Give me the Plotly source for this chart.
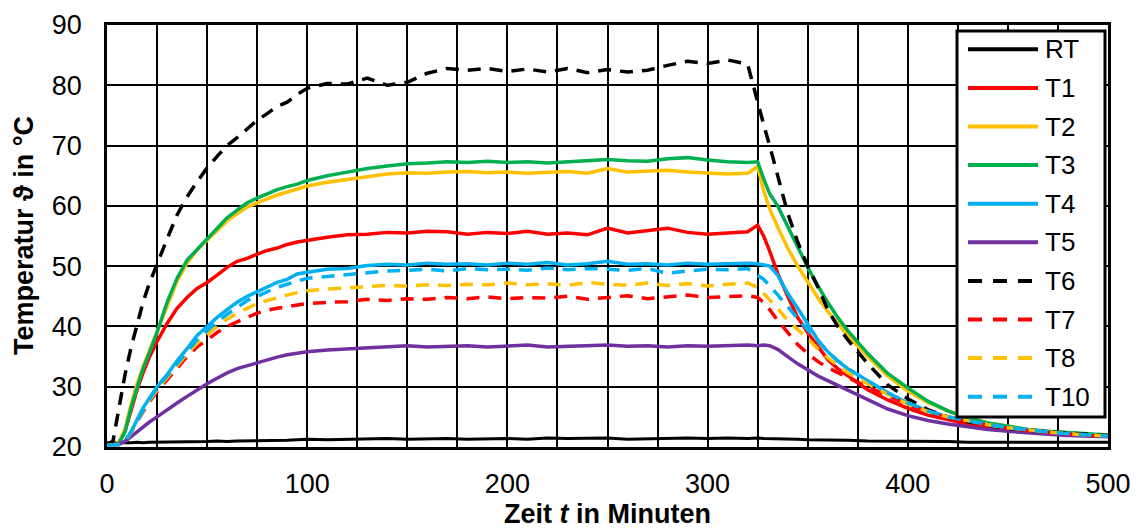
import plotly.graph_objects as go

# time axis (minutes)
t = [0, 3, 6, 9, 12, 15, 18, 21, 25, 30,
     35, 40, 45, 50, 55, 60, 65, 70, 75, 80,
     85, 90, 95, 100, 110, 120, 130, 140, 150, 160,
     170, 180, 190, 200, 210, 220, 230, 240, 250, 260,
     270, 280, 290, 300, 310, 320, 325, 328, 331, 335,
     340, 345, 350, 355, 360, 365, 370, 380, 390, 400,
     410, 420, 430, 440, 450, 460, 470, 480, 490, 500]

RT = [20.7, 20.7, 20.6, 20.7, 20.7, 20.8, 20.7, 20.8, 20.8, 20.8,
      20.9, 20.8, 20.9, 20.9, 21.0, 20.9, 21.0, 21.0, 21.1, 21.0,
      21.1, 21.1, 21.2, 21.3, 21.2, 21.3, 21.3, 21.4, 21.3, 21.4,
      21.4, 21.3, 21.4, 21.4, 21.3, 21.5, 21.4, 21.4, 21.5, 21.3,
      21.4, 21.4, 21.5, 21.4, 21.5, 21.4, 21.5, 21.4, 21.4, 21.3,
      21.3, 21.3, 21.2, 21.2, 21.1, 21.1, 21.1, 21.0, 21.0, 20.9,
      20.9, 20.9, 20.8, 20.8, 20.9, 20.8, 20.8, 20.8, 20.8, 20.8]

T1 = [20.4, 20.4, 20.8, 22.7, 26.0, 29.5, 32.3, 34.8, 37.5, 40.5,
      43.0, 44.8, 46.3, 47.3, 48.5, 49.8, 50.8, 51.3, 52.0, 52.6,
      53.0, 53.6, 54.0, 54.3, 54.8, 55.2, 55.3, 55.6, 55.5, 55.8,
      55.7, 55.3, 55.6, 55.4, 55.8, 55.3, 55.5, 55.2, 56.3, 55.5,
      55.9, 56.3, 55.6, 55.3, 55.5, 55.7, 56.8, 55.0, 52.5, 48.8,
      45.0, 41.5, 39.0, 36.7, 34.5, 33.0, 31.8, 29.5, 27.8, 26.4,
      25.3, 24.5, 23.8, 23.3, 22.9, 22.6, 22.3, 22.1, 21.9, 21.8]

T2 = [20.4, 20.4, 20.8, 23.0, 27.0, 30.5, 33.3, 35.8, 39.0, 43.5,
      47.5, 50.5, 52.7, 54.3, 56.0, 57.5, 58.7, 59.8, 60.5, 61.2,
      61.8, 62.3, 62.8, 63.3, 63.9, 64.4, 64.8, 65.3, 65.5, 65.4,
      65.6, 65.7, 65.5, 65.6, 65.4, 65.6, 65.7, 65.4, 66.2, 65.6,
      65.7, 65.9, 65.6, 65.4, 65.3, 65.4, 66.5, 62.5, 59.5, 56.5,
      53.0, 50.0, 47.3, 44.8, 42.5, 40.5, 38.5, 35.0, 31.8, 29.3,
      27.4, 26.0, 24.9, 24.0, 23.4, 22.9, 22.6, 22.3, 22.1, 21.9]

T3 = [20.4, 20.4, 20.6, 22.5, 26.5, 30.0, 33.0, 35.5, 39.0, 44.0,
      48.0, 51.0, 52.8, 54.5, 56.3, 58.0, 59.3, 60.5, 61.3, 62.0,
      62.7, 63.2, 63.6, 64.2, 65.0, 65.6, 66.2, 66.6, 67.0, 67.1,
      67.3, 67.2, 67.4, 67.2, 67.3, 67.1, 67.3, 67.4, 67.7, 67.5,
      67.4, 67.8, 68.0, 67.6, 67.3, 67.2, 67.3, 64.5, 62.0, 60.0,
      56.5, 53.0, 49.8, 46.8, 44.0, 41.5, 39.3, 35.5, 32.2, 29.8,
      27.6, 26.0, 24.8, 24.0, 23.4, 22.9, 22.6, 22.4, 22.2, 22.0]

T4 = [20.3, 20.3, 20.4, 21.0, 22.5, 24.5, 26.5, 28.0, 30.0, 32.0,
      34.3, 36.3, 38.5, 40.0, 41.5, 42.8, 44.0, 45.0, 45.8, 46.6,
      47.3, 47.8, 48.7, 49.0, 49.5, 49.6, 50.1, 50.3, 50.2, 50.5,
      50.3, 50.4, 50.2, 50.5, 50.3, 50.6, 50.2, 50.4, 50.8, 50.3,
      50.4, 50.2, 50.5, 50.3, 50.4, 50.5, 50.4, 50.2, 50.0, 48.5,
      45.5, 43.0, 40.5, 37.8, 35.8, 34.3, 33.0, 31.0, 29.0, 27.3,
      26.0, 25.0, 24.3, 23.7, 23.2, 22.8, 22.5, 22.2, 22.0, 21.8]

T5 = [20.4, 20.4, 20.5, 20.9, 21.7, 22.6, 23.4, 24.1, 25.0, 26.2,
      27.3, 28.4, 29.5, 30.5, 31.4, 32.3, 33.0, 33.5, 34.0, 34.5,
      34.9, 35.3, 35.6, 35.8, 36.1, 36.3, 36.4, 36.6, 36.8, 36.6,
      36.7, 36.8, 36.6, 36.7, 36.9, 36.6, 36.7, 36.8, 36.9, 36.7,
      36.8, 36.6, 36.8, 36.7, 36.8, 36.9, 36.8, 36.9, 36.8, 36.2,
      35.0, 33.8, 32.8, 31.8, 31.0, 30.2, 29.4, 27.8, 26.3, 25.2,
      24.4, 23.8, 23.3, 22.9, 22.6, 22.3, 22.1, 21.9, 21.8, 21.7]

T6 = [20.3, 21.0, 26.5, 32.0, 36.5, 40.5, 44.0, 47.0, 50.5, 54.5,
      58.5, 61.5, 64.0, 66.3, 68.2, 70.0, 71.3, 72.8, 74.2, 75.3,
      76.5, 77.2, 78.5, 79.5, 80.3, 80.2, 81.2, 80.0, 80.5, 82.0,
      82.8, 82.5, 82.8, 82.3, 82.7, 82.2, 82.8, 82.1, 82.6, 82.2,
      82.5, 83.3, 84.0, 83.6, 84.2, 83.5, 77.0, 73.5, 70.0, 64.8,
      58.8, 54.0, 50.0, 46.6, 42.8, 40.0, 37.8, 33.8, 30.3, 28.0,
      26.2, 25.0, 24.2, 23.6, 23.1, 22.8, 22.5, 22.3, 22.1, 21.9]

T7 = [20.3, 20.3, 20.4, 21.0, 22.4, 24.2, 25.9, 27.4, 29.2, 31.2,
      33.2, 35.0, 36.6, 37.8, 39.0, 40.0, 40.8, 41.5, 42.2, 42.7,
      43.0, 43.3, 43.6, 43.8, 44.0, 44.1, 44.5, 44.3, 44.6, 44.5,
      44.8, 44.6, 44.9, 44.6, 44.8, 44.7, 45.0, 44.5, 44.8, 45.1,
      44.6, 44.9, 45.2, 44.8, 44.9, 45.1, 44.8, 44.0, 42.8, 41.0,
      39.0, 37.0, 35.5, 34.2, 33.2, 32.3, 31.5, 30.0, 28.5, 27.0,
      25.8, 24.9, 24.2, 23.6, 23.1, 22.7, 22.4, 22.1, 21.9, 21.8]

T8 = [20.3, 20.3, 20.4, 21.0, 22.4, 24.2, 26.0, 27.6, 29.5, 31.5,
      33.6, 35.5, 37.2, 38.6, 40.0, 41.2, 42.2, 43.0, 43.8, 44.3,
      44.8, 45.2, 45.6, 45.9, 46.2, 46.4, 46.6, 46.8, 46.7, 46.9,
      46.8, 47.0, 46.9, 47.2, 46.9, 47.1, 46.8, 47.3, 47.0, 46.8,
      47.2, 46.8, 47.1, 46.7, 47.0, 47.2, 46.5, 45.5, 44.5, 43.0,
      41.0, 39.5, 38.0, 36.3, 34.8, 33.5, 32.3, 30.5, 28.7, 27.1,
      25.9, 25.0, 24.3, 23.7, 23.2, 22.8, 22.5, 22.2, 22.0, 21.8]

T10 = [20.3, 20.3, 20.4, 21.0, 22.5, 24.3, 26.2, 27.8, 29.8, 31.8,
       34.0, 36.0, 37.8, 39.3, 40.8, 42.0, 43.2, 44.3, 45.0, 45.8,
       46.5, 47.0, 47.5, 48.0, 48.3, 48.6, 49.0, 49.2, 49.3, 49.5,
       49.2, 49.6, 49.4, 49.5, 49.3, 49.7, 49.4, 49.6, 49.5, 49.3,
       49.6, 48.8, 49.2, 49.5, 49.4, 49.6, 48.5, 47.8, 46.8, 45.3,
       43.3, 41.3, 39.5, 37.5, 35.8, 34.3, 33.0, 31.0, 29.0, 27.3,
       26.0, 25.0, 24.3, 23.7, 23.2, 22.8, 22.5, 22.2, 22.0, 21.8]

names = ["RT", "T1", "T2", "T3", "T4", "T5", "T6", "T7", "T8", "T10"]
series = [RT, T1, T2, T3, T4, T5, T6, T7, T8, T10]
colors = ["#000000", "#FF0000", "#FFC000", "#00B050", "#00B0F0", "#7030A0",
          "#000000", "#FF0000", "#FFC000", "#00B0F0"]
dashed = [False] * 6 + [True] * 4

FONT = "Liberation Sans, Arial, sans-serif"
DASH = "13px,9px"

fig = go.Figure()
for name, ys, col, d in zip(names, series, colors, dashed):
    fig.add_trace(go.Scatter(
        x=t, y=ys, mode="lines", name=name, showlegend=False,
        line=dict(color=col, width=3 if name == "RT" else 3.5,
                  dash=DASH if d else "solid"),
    ))

# plot area in pixels
L, R, T_, B = 107, 1108, 25, 447
W, H = 1142, 530


def px(x):
    return (x - L) / (R - L)


def py(y):
    return (B - y) / (B - T_)


shapes = []
annotations = []
# legend box
shapes.append(dict(type="rect", xref="paper", yref="paper",
                   x0=px(957), x1=px(1105), y0=py(31), y1=py(417),
                   fillcolor="white", line=dict(color="black", width=3),
                   layer="above"))
for i, (name, col, d) in enumerate(zip(names, colors, dashed)):
    yc = 49.3 + i * 38.6
    shapes.append(dict(type="line", xref="paper", yref="paper",
                       x0=px(968), x1=px(1038), y0=py(yc), y1=py(yc),
                       line=dict(color=col, width=4, dash="14px,11px" if d else "solid"),
                       layer="above"))
    annotations.append(dict(xref="paper", yref="paper", x=px(1043), y=py(yc),
                            text=name, showarrow=False, xanchor="left", yanchor="middle",
                            font=dict(family=FONT, size=26, color="black")))

# y-axis title
annotations.append(dict(xref="paper", yref="paper", x=px(24), y=py(236),
                        text="<b>Temperatur ϑ in °C</b>", showarrow=False,
                        textangle=-90, xanchor="center", yanchor="middle",
                        font=dict(family=FONT, size=27, color="black")))

fig.update_layout(
    width=W, height=H,
    margin=dict(l=L, r=W - R, t=T_, b=H - B, pad=0),
    paper_bgcolor="white", plot_bgcolor="white",
    font=dict(family=FONT, color="black"),
    shapes=shapes, annotations=annotations,
    showlegend=False,
)
fig.update_xaxes(
    range=[0, 500], tick0=0, dtick=100, showgrid=True, gridcolor="black", gridwidth=2,
    minor=dict(dtick=25, showgrid=True, gridcolor="black", gridwidth=2),
    showline=True, linecolor="black", linewidth=2.5, mirror=True,
    ticks="", ticklabelstandoff=11, zeroline=False, automargin=False,
    tickfont=dict(family=FONT, size=27, color="black"),
    title=dict(text="<b>Zeit <i>t</i> in Minuten</b>", standoff=5,
               font=dict(family=FONT, size=27, color="black")),
)
fig.update_yaxes(
    range=[20, 90], tick0=20, dtick=10, showgrid=True, gridcolor="black", gridwidth=2,
    showline=True, linecolor="black", linewidth=2.5, mirror=True,
    ticks="", ticklabelstandoff=17, zeroline=False, automargin=False,
    tickfont=dict(family=FONT, size=27, color="black"),
)

fig.write_html("out.html")
